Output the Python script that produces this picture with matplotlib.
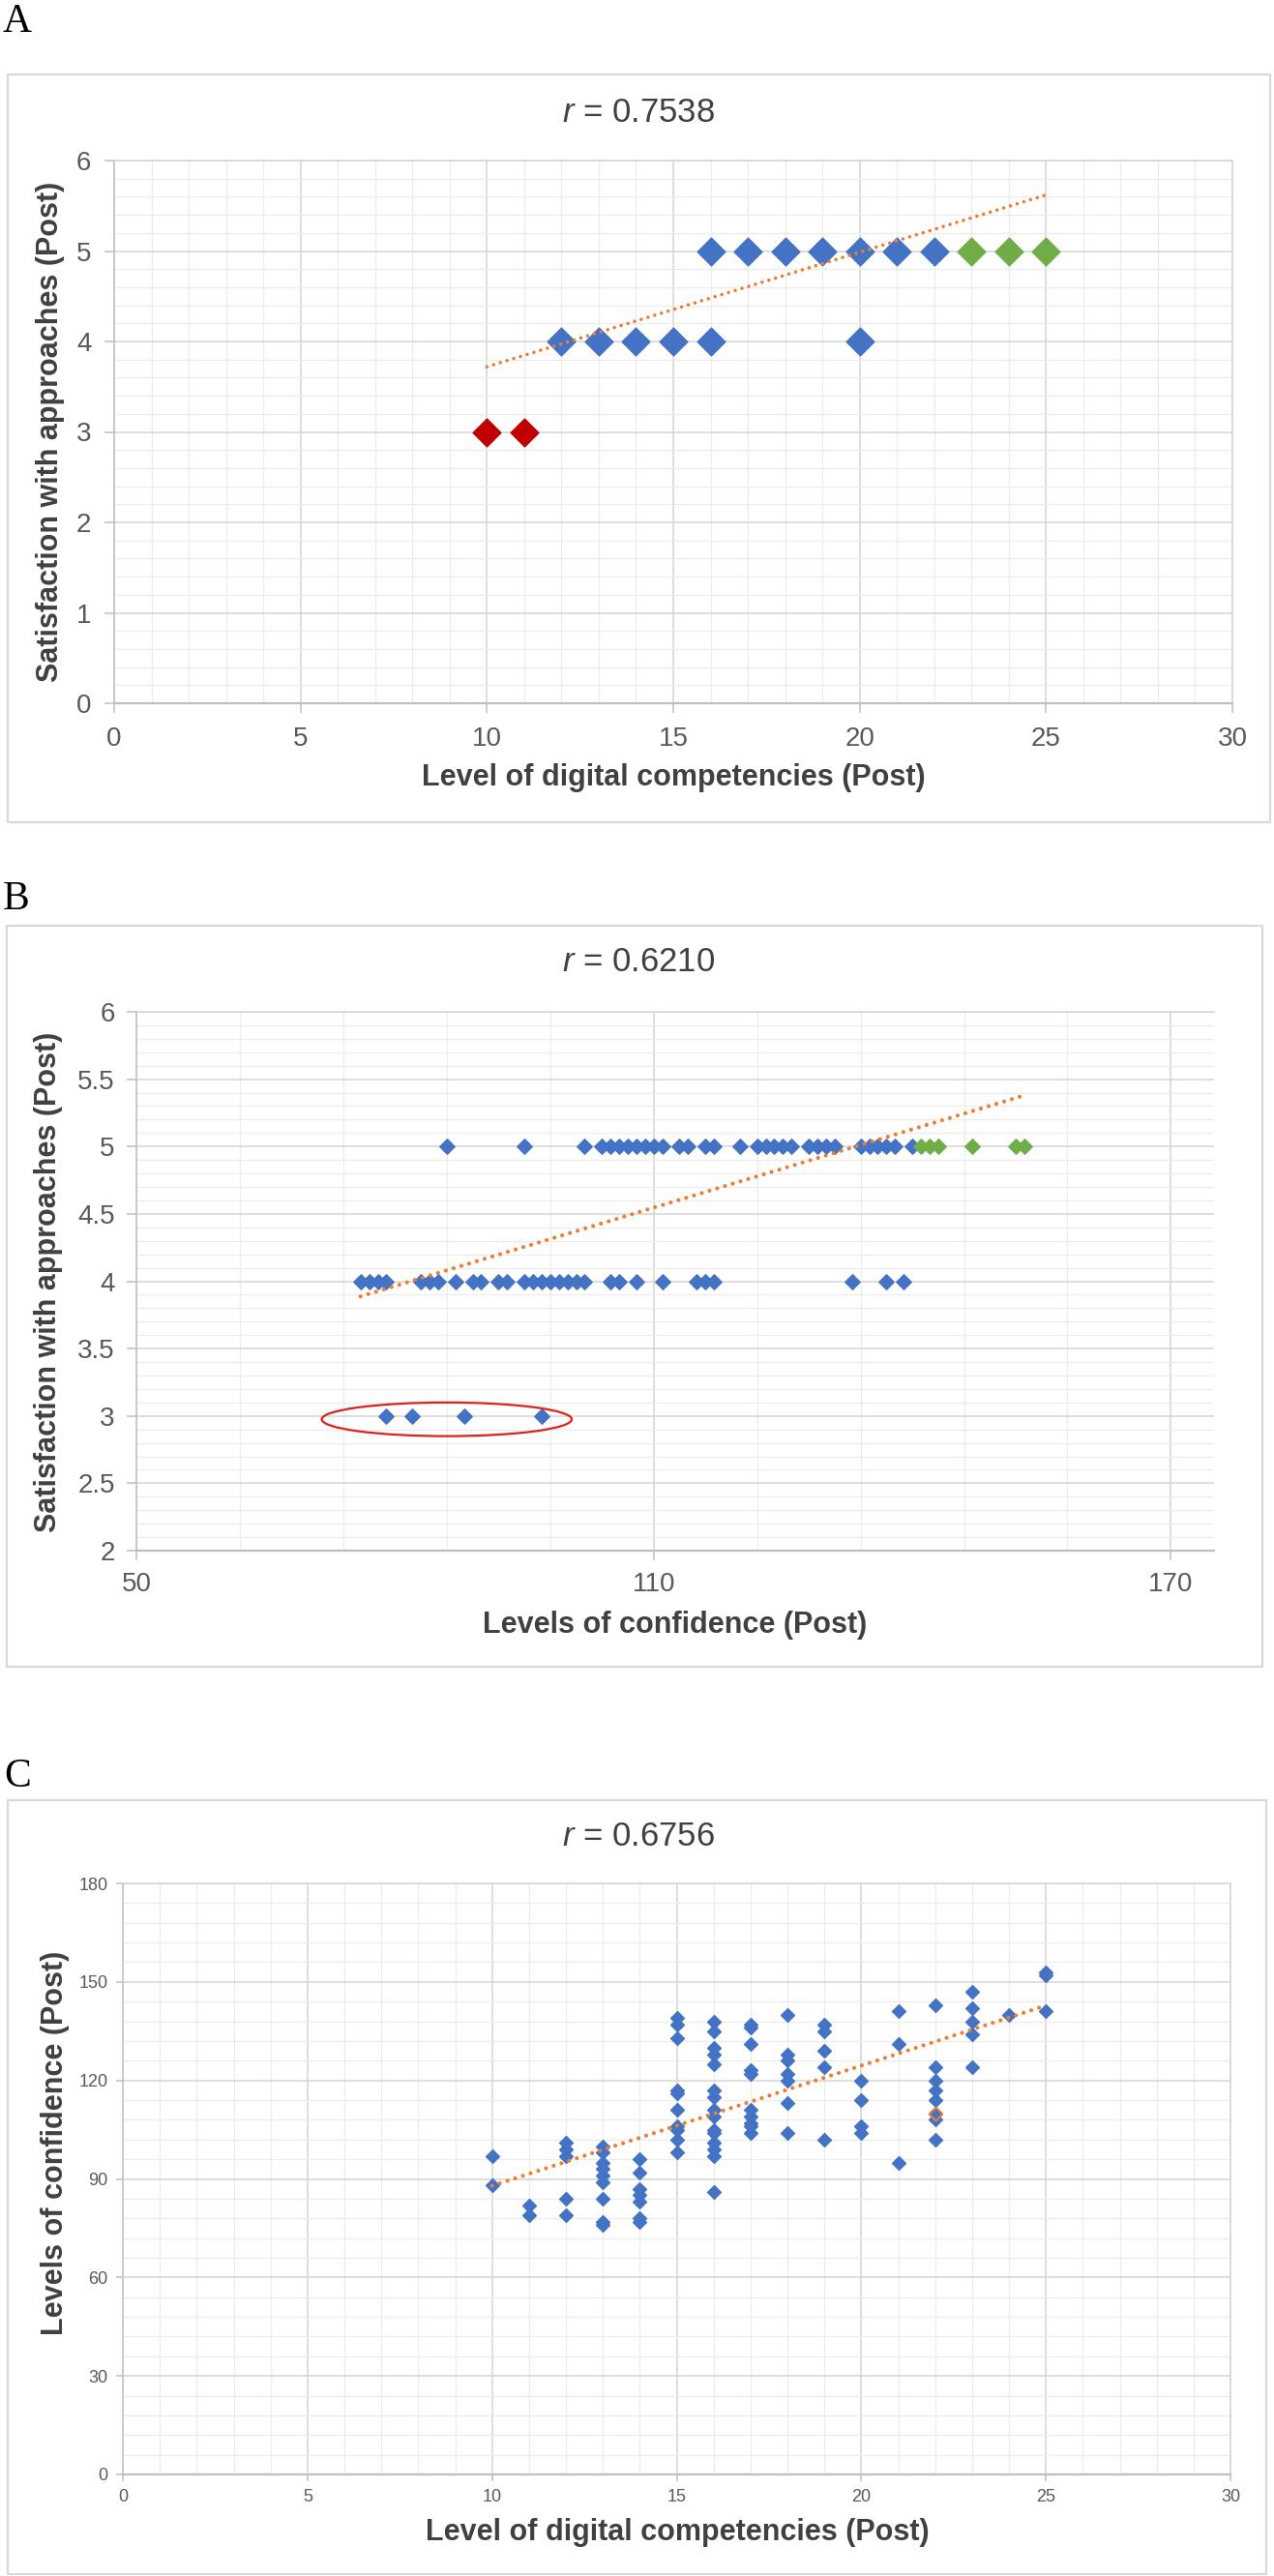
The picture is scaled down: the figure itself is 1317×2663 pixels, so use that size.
import numpy as np
import matplotlib
matplotlib.use('Agg')
import matplotlib.pyplot as plt
from matplotlib import font_manager
from matplotlib.patches import Rectangle, Ellipse
from matplotlib.ticker import FuncFormatter

W, H = 1317, 2663

plt.rcParams['font.family'] = ['Liberation Sans', 'DejaVu Sans']
plt.rcParams['mathtext.fontset'] = 'custom'
plt.rcParams['mathtext.it'] = 'Liberation Sans:italic'
plt.rcParams['mathtext.rm'] = 'Liberation Sans'

# --- panel A: digital competencies vs satisfaction ---
a_blue_x = [12, 13, 14, 15, 16, 20, 16, 17, 18, 19, 20, 21, 22]
a_blue_y = [4, 4, 4, 4, 4, 4, 5, 5, 5, 5, 5, 5, 5]
a_green_x = [23, 24, 25]
a_green_y = [5, 5, 5]
a_red_x = [10, 11]
a_red_y = [3, 3]
a_trend_x = [10, 25]
a_trend_y = [3.72, 5.62]

# --- panel B: confidence vs satisfaction ---
b_y5_x = [86, 95, 102, 104, 105, 106, 107, 108, 109, 110, 111, 113, 114, 116, 117,
          120, 122, 123, 124, 125, 126, 128, 129, 130, 131, 134, 135, 136, 137, 138, 140]
b_y4_x = [76, 77, 78, 79, 83, 84, 85, 87, 89, 90, 92, 93, 95, 96, 97, 98, 99, 100,
          101, 102, 105, 106, 108, 111, 115, 116, 117, 133, 137, 139]
b_y3_x = [79, 82, 88, 97]
b_green_x = [141, 142, 143, 147, 152, 153]
b_trend_x = [76, 153]
b_trend_y = [3.887, 5.38]
b_ring = [86, 2.975, 29, 0.25]   # centre x, centre y, width, height

# --- panel C: digital competencies vs confidence ---
c_levels = [10, 11, 12, 13, 14, 15, 16, 17, 18, 19, 20, 21, 22, 23, 24, 25]
c_conf = [
    [97, 88],
    [82, 79],
    [101, 99, 97, 84, 79],
    [100, 98, 95, 93, 91, 89, 84, 77, 76],
    [96, 92, 87, 85, 83, 78, 77],
    [139, 137, 133, 117, 116, 111, 106, 105, 102, 98],
    [138, 135, 130, 128, 125, 117, 115, 111, 109, 105, 104, 101, 99, 97, 86],
    [137, 136, 131, 123, 122, 111, 109, 107, 106, 104],
    [140, 128, 126, 122, 120, 113, 104],
    [137, 135, 129, 124, 102],
    [120, 114, 106, 104],
    [141, 131, 95],
    [143, 124, 120, 117, 114, 108, 102],
    [147, 142, 138, 134, 124],
    [140],
    [153, 152, 141],
]
c_hi_x = [22]
c_hi_y = [110]
c_trend_x = [10, 25]
c_trend_y = [87.9, 142.8]

BLUE = '#4472C4'
GREEN = '#70AD47'
RED = '#C00000'
ORANGE = '#ED7D31'
GRID_MAJ = '#d4d4d4'
GRID_MIN = '#ececec'
AXIS_COL = '#bfbfbf'
TICK_COL = '#595959'
LABEL_COL = '#404040'

names = {f.name for f in font_manager.fontManager.ttflist}
small_font = 'Liberation Sans Narrow' if 'Liberation Sans Narrow' in names else 'Liberation Sans'

fig = plt.figure(figsize=(W / 100, H / 100), dpi=100)


def px_axes(left, top, right, bottom):
    return fig.add_axes([left / W, 1 - bottom / H, (right - left) / W, (bottom - top) / H])


def panel_box(left, top, right, bottom):
    fig.add_artist(Rectangle((left / W, 1 - bottom / H), (right - left) / W, (bottom - top) / H,
                             transform=fig.transFigure, fill=False, ec='#d9d9d9', lw=1.6))


def ftext(x, y, s, **kw):
    fig.text(x / W, 1 - y / H, s, **kw)


def style(ax, xmaj, xmin, ymaj, ymin, tsize, tpad, tlen, right_line=True, family=None):
    ax.set_xlim(xmaj[0], xmin[-1] if xmin[-1] > xmaj[-1] else xmaj[-1])
    ax.set_ylim(ymaj[0], ymaj[-1])
    ax.set_xticks(xmaj)
    ax.set_xticks(xmin, minor=True)
    ax.set_yticks(ymaj)
    ax.set_yticks(ymin, minor=True)
    ax.grid(True, which='major', color=GRID_MAJ, lw=1.1)
    ax.grid(True, which='minor', color=GRID_MIN, lw=0.9)
    ax.set_axisbelow(True)
    ax.tick_params(which='minor', length=0)
    ax.tick_params(which='major', length=tlen, width=1.1, color=AXIS_COL,
                   labelcolor=TICK_COL, labelsize=tsize, pad=tpad)
    fmt = FuncFormatter(lambda v, p: '{:g}'.format(v))
    ax.xaxis.set_major_formatter(fmt)
    ax.yaxis.set_major_formatter(fmt)
    if family:
        for lab in ax.get_xticklabels() + ax.get_yticklabels():
            lab.set_family(family)
    ax.spines['top'].set_color(GRID_MAJ)
    ax.spines['top'].set_linewidth(1.1)
    ax.spines['right'].set_color(GRID_MAJ)
    ax.spines['right'].set_linewidth(1.1)
    ax.spines['right'].set_visible(right_line)
    ax.spines['left'].set_color(AXIS_COL)
    ax.spines['left'].set_linewidth(1.1)
    ax.spines['bottom'].set_color(AXIS_COL)
    ax.spines['bottom'].set_linewidth(1.6)


def trend(ax, xs, ys, lw):
    ax.plot(xs, ys, color=ORANGE, lw=lw, linestyle=(0, (0.01, 2.0)),
            dash_capstyle='round', zorder=3)


title_kw = dict(ha='center', va='center', fontsize=25, color=LABEL_COL)
lab_kw = dict(ha='center', va='center', fontsize=22, fontweight='bold', color=LABEL_COL)
letter_kw = dict(ha='left', va='baseline', fontsize=30, family='Liberation Serif', color='black')

# ---------------- A ----------------
panel_box(8, 77, 1313, 850)
ftext(3, 33, 'A', **letter_kw)
ax = px_axes(118, 166, 1274, 727)
style(ax, np.arange(0, 31, 5), np.arange(0, 31, 1), np.arange(0, 7, 1), np.arange(0, 6.01, 0.2),
      20, 10, 7)
ax.scatter(a_blue_x, a_blue_y, marker='D', s=215, color=BLUE, zorder=2)
ax.scatter(a_green_x, a_green_y, marker='D', s=215, color=GREEN, zorder=2)
ax.scatter(a_red_x, a_red_y, marker='D', s=215, color=RED, zorder=2)
trend(ax, a_trend_x, a_trend_y, 2.6)
ftext(660, 116, r'$\mathit{r}$ = 0.7538', **title_kw)
ftext(696, 804, 'Level of digital competencies (Post)', **lab_kw)
ftext(52, 446, 'Satisfaction with approaches (Post)', rotation=90, **lab_kw)

# ---------------- B ----------------
panel_box(7, 957, 1305, 1723)
ftext(3, 940, 'B', **letter_kw)
ax = px_axes(141, 1046, 1255, 1603)
style(ax, np.arange(50, 171, 60), np.arange(50, 176, 12), np.arange(2, 6.01, 0.5),
      np.arange(2, 6.01, 0.1), 20, 9, 7, right_line=False)
ax.set_xlim(50, 175)
ax.scatter(b_y5_x, [5] * len(b_y5_x), marker='D', s=62, color=BLUE, zorder=2)
ax.scatter(b_y4_x, [4] * len(b_y4_x), marker='D', s=62, color=BLUE, zorder=2)
ax.scatter(b_y3_x, [3] * len(b_y3_x), marker='D', s=62, color=BLUE, zorder=2)
ax.scatter(b_green_x, [5] * len(b_green_x), marker='D', s=62, color=GREEN, zorder=2)
trend(ax, b_trend_x, b_trend_y, 3.0)
ax.add_patch(Ellipse((b_ring[0], b_ring[1]), b_ring[2], b_ring[3], fill=False,
                     ec='#E0201B', lw=1.6, zorder=4))
ftext(660, 995, r'$\mathit{r}$ = 0.6210', **title_kw)
ftext(698, 1680, 'Levels of confidence (Post)', **lab_kw)
ftext(50, 1325, 'Satisfaction with approaches (Post)', rotation=90, **lab_kw)

# ---------------- C ----------------
panel_box(8, 1861, 1309, 2661)
ftext(4, 1847, 'C', **letter_kw)
ax = px_axes(127, 1947, 1272, 2558)
style(ax, np.arange(0, 31, 5), np.arange(0, 31, 1), np.arange(0, 181, 30), np.arange(0, 181, 6),
      13, 6, 5, family=small_font)
c_x = np.repeat(c_levels, [len(v) for v in c_conf])
c_y = np.concatenate(c_conf)
ax.scatter(c_x, c_y, marker='D', s=50, color=BLUE, zorder=2)
ax.scatter(c_hi_x, c_hi_y, marker='D', s=50, color=BLUE, edgecolors=ORANGE, linewidths=1.4, zorder=2)
trend(ax, c_trend_x, c_trend_y, 3.0)
ftext(660, 1899, r'$\mathit{r}$ = 0.6756', **title_kw)
ftext(700, 2618, 'Level of digital competencies (Post)', **lab_kw)
ftext(57, 2215, 'Levels of confidence (Post)', rotation=90, **lab_kw)

fig.savefig('out.png', dpi=100)
